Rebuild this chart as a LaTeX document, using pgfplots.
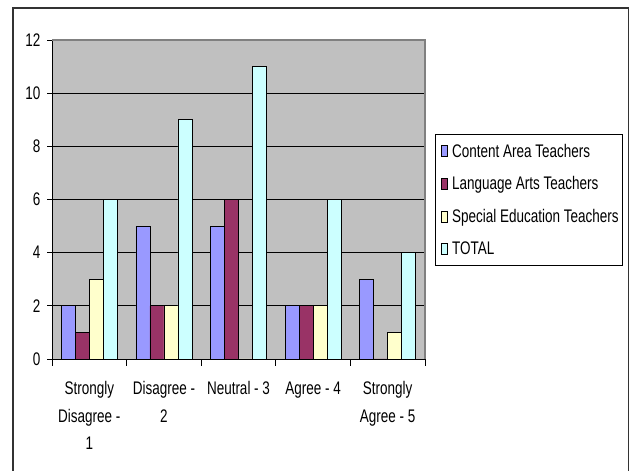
\documentclass[border=0pt]{standalone}
\usepackage{pgfplots}
\pgfplotsset{compat=1.18}
\usepackage{fontspec}
\setmainfont{Liberation Sans}[FakeStretch=0.74]
\definecolor{cat}{HTML}{9999FF}
\definecolor{lat}{HTML}{993366}
\definecolor{set}{HTML}{FFFFCC}
\definecolor{tot}{HTML}{CCFFFF}
\definecolor{plotbg}{HTML}{C0C0C0}
\definecolor{edge}{HTML}{808080}
\begin{document}
\begin{tikzpicture}[x=1bp,y=1bp]
\useasboundingbox[fill=white] (0,0) rectangle (634,471);
\draw[line width=1.5bp, black!80] (13,0) -- (13,463) -- (628.5,463) -- (628.5,0);
\begin{axis}[
  at={(52bp,112bp)}, anchor=south west,
  scale only axis, width=373bp, height=319bp,
  ybar=0pt, bar width=14bp,
  xmin=-0.5, xmax=4.5, ymin=0, ymax=12,
  ytick={0,2,...,12},
  xtick={0,...,4},
  xticklabels={{Strongly\\Disagree -\\1},{Disagree -\\2},{Neutral - 3},{Agree - 4},{Strongly\\Agree - 5}},
  every tick label/.append style={font=\fontsize{18.3}{27.5}\selectfont},
  /pgf/number format/assume math mode=true,
  xticklabel style={align=center, anchor=north, yshift=-14bp},
  yticklabel style={xshift=-3bp},
  major x tick style={draw=none},
  extra x ticks={-0.5,0.5,...,4.5},
  extra x tick labels={},
  extra x tick style={grid=none, major tick length=7bp, major x tick style={draw=black, line width=0.8bp}},
  axis x line*=bottom, axis y line*=left,
  axis line style={black, line width=0.8bp, -},
  tick align=outside, major tick length=5bp,
  major y tick style={black, line width=0.8bp},
  ymajorgrids, major grid style={black, line width=0.8bp},
  axis background/.style={fill=plotbg},
  every axis plot/.append style={draw=black, line width=0.7bp},
  legend cell align=left,
  legend style={at={(1.027,0.705)}, anchor=north west, draw=black, line width=0.8bp, fill=white,
    font=\fontsize{18.3}{21}\selectfont, row sep=14bp, inner xsep=2bp, inner ysep=7.5bp},
  legend image code/.code={\draw[#1, line width=0.7bp] (4bp,-5.5bp) rectangle (10bp,5.5bp); \path (0bp,0bp) (12bp,0bp);},
  after end axis/.code={\draw[edge, line width=1.2bp] (rel axis cs:0,1) -- (rel axis cs:1,1) -- (rel axis cs:1,0);},
]
\addplot[fill=cat] coordinates {(0,2) (1,5) (2,5) (3,2) (4,3)};
\addlegendentry{Content Area Teachers}
\addplot[fill=lat] coordinates {(0,1) (1,2) (2,6) (3,2) (4,0)};
\addlegendentry{Language Arts Teachers}
\addplot[fill=set] coordinates {(0,3) (1,2) (2,0) (3,2) (4,1)};
\addlegendentry{Special Education Teachers}
\addplot[fill=tot] coordinates {(0,6) (1,9) (2,11) (3,6) (4,4)};
\addlegendentry{TOTAL}
\end{axis}
\end{tikzpicture}
\end{document}
